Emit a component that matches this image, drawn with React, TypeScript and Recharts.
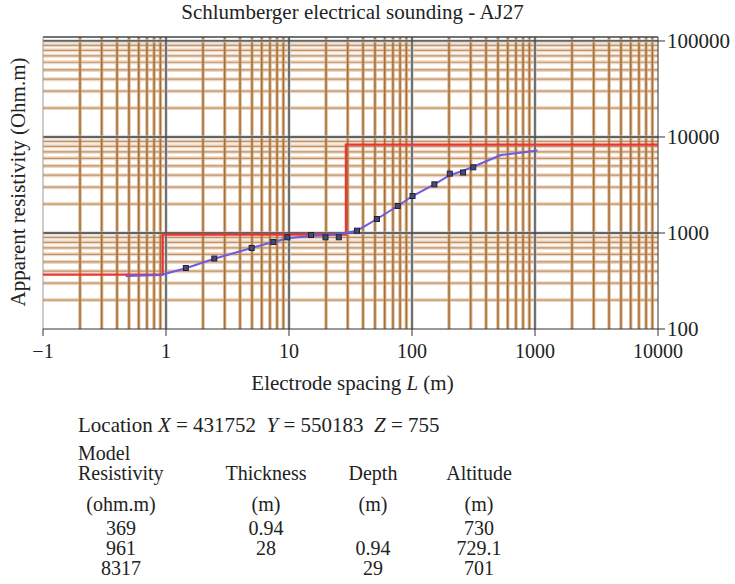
import { ComposedChart, Scatter, XAxis, YAxis, CartesianGrid, ReferenceLine } from "recharts";

// model layers (from the table under the plot)
const modelResistivity = [369, 961, 8317];
const modelThickness = [0.94, 28];
const modelDepth = [0.94, 29];
const modelAltitude = [730, 729.1, 701];

// observed apparent resistivity
const obsSpacing = [1.45, 2.47, 4.97, 7.45, 9.7, 15.1, 19.8, 25.4, 35.7, 51.9, 76.5, 101, 152, 203, 260, 315];
const obsRho = [432, 542, 698, 806, 902, 953, 902, 902, 1057, 1399, 1911, 2426, 3212, 4150, 4268, 4833];

// computed sounding curve
const fitSpacing = [0.47, 0.91, 1.45, 2.47, 4.97, 7.45, 9.7, 15.1, 20, 25.4, 35.7, 51.9, 76.5, 101, 152, 203, 260, 315, 528, 1048];
const fitRho = [357, 365, 430, 540, 698, 806, 880, 930, 950, 975, 1057, 1399, 1911, 2426, 3212, 4000, 4450, 4900, 6490, 7220];

const xTicks = [0.1, 1, 10, 100, 1000, 10000];
const xTickLabels = ["\u22121", "1", "10", "100", "1000", "10000"];
const yTicks = [100, 1000, 10000, 100000];
const yTickLabels = ["100", "1000", "10000", "100000"];

const X_MIN = 0.1;
const X_MAX = 10000;
const Y_MIN = 100;
const Y_MAX = 110000;

const minorValues = (lo: number, hi: number) => {
  const out: number[] = [];
  for (let d = lo; d < hi; d *= 10) {
    for (let k = 2; k <= 9; k++) out.push(d * k);
  }
  return out;
};
const xMinor = minorValues(0.1, 10000);
const yMinor = minorValues(100, 100000);
const xMajor = [1, 10, 100, 1000];
const yMajor = [1000, 10000, 100000];

// step line of the layered model
const modelPts: { L: number; rho: number }[] = [{ L: X_MIN, rho: modelResistivity[0] }];
modelDepth.forEach((d, i) => {
  modelPts.push({ L: d, rho: modelResistivity[i] });
  modelPts.push({ L: d, rho: modelResistivity[i + 1] });
});
modelPts.push({ L: X_MAX, rho: modelResistivity[modelResistivity.length - 1] });

const obsPts = obsSpacing.map((L, i) => ({ L, rho: obsRho[i] }));
const fitPts = fitSpacing.map((L, i) => ({ L, rho: fitRho[i] }));

const FONT = "Liberation Serif, Times New Roman, serif";

const Square = (props: any) => {
  const { cx, cy } = props;
  if (cx == null || cy == null) return <g />;
  return <rect x={cx - 2.5} y={cy - 2.5} width={5} height={5} fill="#4a4a70" stroke="#20203a" strokeWidth={1} />;
};

const NoDot = () => <g />;

const txt = (left: number, top: number, s: string, center = true) => (
  <div
    style={{
      position: "absolute",
      left: center ? left - 60 : left,
      width: center ? 120 : undefined,
      top,
      textAlign: center ? "center" : "left",
      whiteSpace: "nowrap",
      lineHeight: "20px",
    }}
  >
    {s}
  </div>
);

const colRes = 121;
const colThk = 266;
const colDep = 373;
const colAlt = 479;
const rowY = [518, 538, 558];

export default function App() {
  return (
    <div
      style={{
        position: "absolute",
        left: 0,
        top: 0,
        width: 735,
        height: 584,
        background: "#fff",
        fontFamily: FONT,
        fontSize: 20,
        color: "#222",
        overflow: "hidden",
      }}
    >
      <ComposedChart
        width={735}
        height={400}
        margin={{ top: 37, right: 7, bottom: 41, left: 43 }}
        style={{ fontFamily: FONT }}
      >
        <XAxis
          dataKey="L"
          type="number"
          scale="log"
          domain={[X_MIN, X_MAX]}
          ticks={xTicks}
          allowDataOverflow
          tickFormatter={(v: number) => xTickLabels[xTicks.indexOf(v)] ?? String(v)}
          tick={{ fill: "#222", fontSize: 20, fontFamily: FONT }}
          tickSize={7}
          tickMargin={8}
          height={30}
          stroke="#333"
          interval={0}
        />
        <YAxis
          dataKey="rho"
          type="number"
          orientation="right"
          scale="log"
          domain={[Y_MIN, Y_MAX]}
          ticks={yTicks}
          allowDataOverflow
          tickFormatter={(v: number) => yTickLabels[yTicks.indexOf(v)] ?? String(v)}
          tick={{ fill: "#222", fontSize: 21, fontFamily: FONT, textAnchor: "start" }}
          tickSize={7}
          tickMargin={2}
          width={70}
          stroke="#333"
          interval={0}
        />
        {/* minor grid: light halo then darker core */}
        <CartesianGrid horizontalValues={yMinor} vertical={false} stroke="#ecd8c4" strokeWidth={4} />
        <CartesianGrid verticalValues={xMinor} horizontal={false} stroke="#dcbd9c" strokeWidth={3.5} />
        <CartesianGrid horizontalValues={yMinor} vertical={false} stroke="#c39266" strokeWidth={1.2} />
        <CartesianGrid verticalValues={xMinor} horizontal={false} stroke="#a86e34" strokeWidth={1.5} />
        {/* decade lines */}
        <CartesianGrid horizontalValues={yMajor} verticalValues={xMajor} stroke="#c4c4c4" strokeWidth={3} />
        <CartesianGrid horizontalValues={yMajor} verticalValues={xMajor} stroke="#454545" strokeWidth={1.3} />
        <ReferenceLine y={Y_MAX} stroke="#444" strokeWidth={1.5} />
        <ReferenceLine x={X_MIN} stroke="#999" strokeWidth={1} />
        <Scatter
          name="model"
          data={modelPts}
          line={{ stroke: "#ec3434", strokeWidth: 2.2 }}
          lineType="joint"
          shape={NoDot}
          isAnimationActive={false}
        />
        <Scatter
          name="fit"
          data={fitPts}
          line={{ stroke: "#6a5be0", strokeWidth: 2 }}
          lineType="joint"
          shape={NoDot}
          isAnimationActive={false}
        />
        <Scatter name="observed" data={obsPts} shape={Square} isAnimationActive={false} />
      </ComposedChart>

      <div
        style={{ position: "absolute", left: 0, width: 705, top: 1, textAlign: "center", lineHeight: "22px", fontSize: 21 }}
      >
        Schlumberger electrical sounding - AJ27
      </div>
      <div
        style={{
          position: "absolute",
          left: 18,
          top: 182,
          transform: "translate(-50%, -50%) rotate(-90deg)",
          whiteSpace: "nowrap",
          lineHeight: "22px",
          fontSize: 21,
        }}
      >
        Apparent resistivity (Ohm.m)
      </div>
      <div
        style={{ position: "absolute", left: 0, width: 705, top: 372, textAlign: "center", lineHeight: "22px", fontSize: 21 }}
      >
        Electrode spacing <i>L</i> (m)
      </div>

      <div style={{ position: "absolute", left: 78, top: 414, whiteSpace: "pre", lineHeight: "22px", fontSize: 21 }}>
        Location <i>X</i> = 431752  <i>Y</i> = 550183  <i>Z</i> = 755
      </div>
      {txt(78, 443, "Model", false)}
      {txt(78, 463, "Resistivity", false)}
      {txt(colThk, 463, "Thickness")}
      {txt(colDep, 463, "Depth")}
      {txt(colAlt, 463, "Altitude")}
      {txt(colRes, 494, "(ohm.m)")}
      {txt(colThk, 494, "(m)")}
      {txt(colDep, 494, "(m)")}
      {txt(colAlt, 494, "(m)")}
      {modelResistivity.map((r, i) => (
        <div key={"r" + i}>{txt(colRes, rowY[i], String(r))}</div>
      ))}
      {modelThickness.map((t, i) => (
        <div key={"t" + i}>{txt(colThk, rowY[i], String(t))}</div>
      ))}
      {modelDepth.map((d, i) => (
        <div key={"d" + i}>{txt(colDep, rowY[i + 1], String(d))}</div>
      ))}
      {modelAltitude.map((a, i) => (
        <div key={"a" + i}>{txt(colAlt, rowY[i], String(a))}</div>
      ))}
    </div>
  );
}
